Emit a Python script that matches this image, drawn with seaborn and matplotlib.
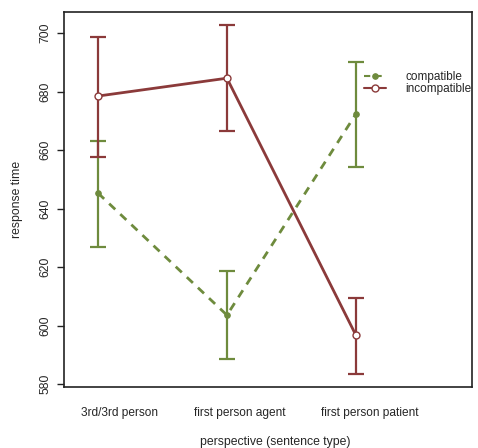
import matplotlib
matplotlib.use("Agg")
import matplotlib.pyplot as plt
import seaborn as sns
import pandas as pd
import numpy as np

categories = ["3rd/3rd person", "first person agent", "first person patient"]
compatible = [645.3, 603.6, 672.3]
compatible_lo = [626.8, 588.5, 654.2]
compatible_hi = [663.1, 618.6, 690.1]
incompatible = [678.5, 684.6, 596.8]
incompatible_lo = [657.6, 666.5, 583.4]
incompatible_hi = [698.6, 702.7, 609.4]
yticks = [580, 600, 620, 640, 660, 680, 700]

GREEN = "#6E8B3D"
RED = "#8B3A3A"

sns.set_style("white")
plt.rcParams['font.family'] = ['Liberation Sans', 'DejaVu Sans']

fig = plt.figure(figsize=(4.78, 4.48), dpi=100)
ax = fig.add_axes([0.134, 0.136, 0.853, 0.837])

x = np.arange(len(categories))
df = pd.DataFrame({
    "x": np.concatenate([x, x]),
    "rt": compatible + incompatible,
    "cond": ["compatible"] * 3 + ["incompatible"] * 3,
})

# error bars
ax.errorbar(x, compatible,
            yerr=[np.array(compatible) - np.array(compatible_lo),
                  np.array(compatible_hi) - np.array(compatible)],
            fmt="none", ecolor=GREEN, elinewidth=1.6, capsize=6, capthick=1.6, zorder=2)
ax.errorbar(x, incompatible,
            yerr=[np.array(incompatible) - np.array(incompatible_lo),
                  np.array(incompatible_hi) - np.array(incompatible)],
            fmt="none", ecolor=RED, elinewidth=1.6, capsize=6, capthick=1.6, zorder=3)

sns.lineplot(data=df[df.cond == "compatible"], x="x", y="rt", ax=ax, color=GREEN,
             linewidth=2, linestyle=(0, (3, 2.5)), marker="o", markersize=4,
             markerfacecolor=GREEN, markeredgecolor=GREEN, label="compatible", zorder=4)
sns.lineplot(data=df[df.cond == "incompatible"], x="x", y="rt", ax=ax, color=RED,
             linewidth=2, linestyle="-", marker="o", markersize=5,
             markerfacecolor="white", markeredgecolor=RED, markeredgewidth=1, label="incompatible", zorder=5)

ax.set_xlim(-0.264, 2.9)
ax.set_ylim(579.0, 707.2)
ax.set_yticks(yticks)
ax.set_yticklabels([str(t) for t in yticks], rotation=90, va="center", fontsize=8.8)
# category labels sit slightly right of the points, as in the original
ax.set_xticks(x + np.array([0.163, 0.097, 0.109]))
ax.set_xticklabels(categories, fontsize=8.6)
ax.tick_params(axis="x", length=0, pad=14)
ax.tick_params(axis="y", length=5, width=1, direction="out", left=True, pad=4, color="#222222")
ax.set_xlabel("perspective (sentence type)", fontsize=8.8)
ax.xaxis.set_label_coords(0.517, -0.13)
ax.set_ylabel("response time", fontsize=8.8, labelpad=12)

for s in ax.spines.values():
    s.set_color("#222222")
    s.set_linewidth(1.2)
    s.set_visible(True)

leg = ax.legend(loc="upper left", bbox_to_anchor=(0.724, 0.855), frameon=False,
                fontsize=8.5, handlelength=1.9, handletextpad=1.6, labelspacing=0.0,
                borderaxespad=0)
for h in leg.legend_handles:
    h.set_linewidth(1.5)

fig.savefig("out.png", dpi=100)
